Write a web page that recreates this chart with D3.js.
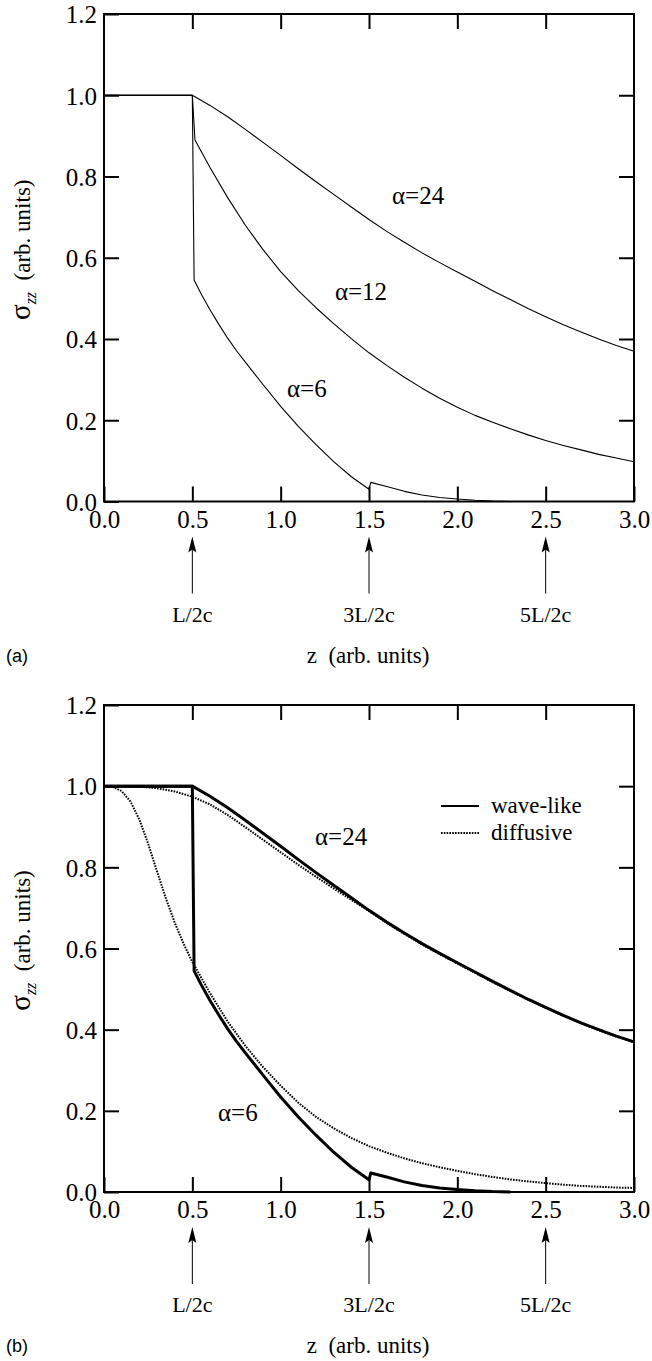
<!DOCTYPE html>
<html>
<head>
<meta charset="utf-8">
<script src="https://cdn.jsdelivr.net/npm/d3@7"></script>
<style>
  body { margin: 0; background: #fff; }
</style>
</head>
<body>
<div class="chart"></div>
<script>
// size of the whole picture
var svgWidth = 652;
var svgHeight = 1361;
var serif = "'Liberation Serif'";
var sans = "'Liberation Sans'";

// tick values
var xTicks = [0, 0.5, 1.0, 1.5, 2.0, 2.5, 3.0];
var yTicks = [0, 0.2, 0.4, 0.6, 0.8, 1.0, 1.2];

// arrow markers under the x axis
var arrowZ = [0.5, 1.5, 2.5];
var arrowLabels = ["L/2c", "3L/2c", "5L/2c"];

// wave-like solutions
var zWave24 = [0, 0.5, 0.6, 0.7, 0.8, 0.9, 1.0, 1.1, 1.2, 1.3, 1.4, 1.5, 1.6, 1.7, 1.8, 1.9, 2.0, 2.1, 2.2, 2.3, 2.4, 2.5, 2.6, 2.7, 2.8, 2.9, 3.0];
var sWave24 = [1.0, 1.0, 0.975, 0.947, 0.916, 0.884, 0.852, 0.819, 0.787, 0.756, 0.725, 0.694, 0.665, 0.638, 0.612, 0.588, 0.565, 0.542, 0.519, 0.497, 0.475, 0.455, 0.435, 0.417, 0.400, 0.384, 0.370];

var zWave12 = [0, 0.5, 0.515, 0.6, 0.7, 0.8, 0.9, 1.0, 1.1, 1.2, 1.3, 1.4, 1.5, 1.6, 1.7, 1.8, 1.9, 2.0, 2.1, 2.2, 2.3, 2.4, 2.5, 2.6, 2.7, 2.8, 2.9, 3.0];
var sWave12 = [1.0, 1.0, 0.89, 0.822, 0.748, 0.680, 0.620, 0.566, 0.519, 0.477, 0.438, 0.401, 0.366, 0.335, 0.306, 0.279, 0.254, 0.232, 0.212, 0.195, 0.179, 0.164, 0.150, 0.138, 0.127, 0.116, 0.107, 0.098];

var zWave6 = [0, 0.5, 0.51, 0.55, 0.6, 0.65, 0.7, 0.75, 0.8, 0.9, 1.0, 1.1, 1.2, 1.3, 1.4, 1.5, 1.51, 1.6, 1.7, 1.8, 1.9, 2.0, 2.1, 2.2, 2.3];
var sWave6 = [1.0, 1.0, 0.545, 0.511, 0.472, 0.436, 0.402, 0.371, 0.343, 0.288, 0.234, 0.185, 0.140, 0.098, 0.061, 0.030, 0.047, 0.037, 0.025, 0.016, 0.010, 0.006, 0.003, 0.001, 0.0];

// diffusive solutions
var zDiff24 = [0, 0.1, 0.2, 0.3, 0.4, 0.5, 0.6, 0.7, 0.8, 0.9, 1.0, 1.1, 1.2, 1.3, 1.4, 1.5, 1.6, 1.7, 1.8, 1.9, 2.0, 2.1, 2.2, 2.3, 2.4, 2.5, 2.6, 2.7, 2.8, 2.9, 3.0];
var sDiff24 = [1.0, 1.0, 0.999, 0.995, 0.987, 0.974, 0.955, 0.929, 0.899, 0.868, 0.837, 0.806, 0.777, 0.748, 0.720, 0.692, 0.663, 0.636, 0.610, 0.586, 0.563, 0.540, 0.517, 0.495, 0.474, 0.454, 0.434, 0.416, 0.399, 0.383, 0.369];

var zDiff6 = [0, 0.05, 0.1, 0.15, 0.2, 0.25, 0.3, 0.35, 0.4, 0.45, 0.5, 0.6, 0.7, 0.8, 0.9, 1.0, 1.1, 1.2, 1.3, 1.4, 1.5, 1.6, 1.7, 1.8, 1.9, 2.0, 2.1, 2.2, 2.3, 2.4, 2.5, 2.6, 2.7, 2.8, 2.9, 3.0];
var sDiff6 = [1.0, 0.998, 0.988, 0.962, 0.918, 0.858, 0.790, 0.724, 0.664, 0.612, 0.567, 0.490, 0.420, 0.360, 0.308, 0.262, 0.220, 0.185, 0.157, 0.133, 0.113, 0.097, 0.083, 0.071, 0.061, 0.052, 0.044, 0.037, 0.031, 0.026, 0.022, 0.018, 0.015, 0.013, 0.011, 0.010];

function zip(zs, ss) {
  return zs.map(function (z, i) { return [z, ss[i]]; });
}

var svg = d3.select(".chart")
  .append("svg")
  .attr("width", svgWidth)
  .attr("height", svgHeight);

var left = 104, right = 634;

function styleAxis(sel) {
  sel.select(".domain").remove();
  sel.selectAll(".tick line").attr("stroke", "#000").attr("stroke-width", 2);
  sel.selectAll(".tick text")
    .style("font-family", serif)
    .style("font-size", "25px")
    .attr("fill", "#000");
}

function drawPanel(top, bottom, tag) {
  var g = svg.append("g");

  var xScale = d3.scaleLinear().domain([0, 3]).range([left, right]);
  var yScale = d3.scaleLinear().domain([0, 1.2]).range([bottom, top]);

  // bottom axis with labels
  var xAxis = g.append("g")
    .attr("transform", `translate(0, ${bottom})`)
    .call(d3.axisBottom(xScale).tickValues(xTicks).tickSizeInner(-15).tickSizeOuter(0).tickFormat(d3.format(".1f")));
  styleAxis(xAxis);
  xAxis.selectAll("text").attr("y", 26).attr("dy", 0);

  // left axis with labels
  var yAxis = g.append("g")
    .attr("transform", `translate(${left}, 0)`)
    .call(d3.axisLeft(yScale).tickValues(yTicks).tickSizeInner(-15).tickSizeOuter(0).tickPadding(7).tickFormat(d3.format(".1f")));
  styleAxis(yAxis);
  yAxis.selectAll("text").attr("dy", "0.35em");

  // top and right axes, ticks only
  styleAxis(g.append("g")
    .attr("transform", `translate(0, ${top})`)
    .call(d3.axisTop(xScale).tickValues(xTicks.slice(1, -1)).tickSizeInner(-15).tickSizeOuter(0).tickFormat("")));
  styleAxis(g.append("g")
    .attr("transform", `translate(${right}, 0)`)
    .call(d3.axisRight(yScale).tickValues(yTicks.slice(1, -1)).tickSizeInner(-15).tickSizeOuter(0).tickFormat("")));

  // frame
  g.append("rect")
    .attr("x", left).attr("y", top)
    .attr("width", right - left).attr("height", bottom - top)
    .attr("fill", "none").attr("stroke", "#000").attr("stroke-width", 2);

  // y axis label
  var ylab = g.append("text")
    .attr("transform", `translate(30, ${(top + bottom) / 2 - 8}) rotate(-90)`)
    .attr("text-anchor", "middle")
    .style("font-family", serif)
    .style("font-size", "23px");
  ylab.append("tspan").style("font-size", "29px").text("σ");
  ylab.append("tspan").style("font-size", "16px").style("font-style", "italic").attr("dy", 6).text("zz");
  ylab.append("tspan").attr("dy", -6).text("\u00a0\u00a0(arb. units)");

  // arrows and their labels
  var arrows = g.selectAll(".arrow").data(arrowZ).enter().append("g")
    .attr("transform", d => `translate(${xScale(d)}, ${bottom + 35})`);
  arrows.append("line")
    .attr("x1", 0).attr("x2", 0).attr("y1", 8).attr("y2", 57)
    .attr("stroke", "#000").attr("stroke-width", 1);
  arrows.append("path")
    .attr("d", "M0,0 L-4,16 L0,13 L4,16 Z")
    .attr("fill", "#000");
  g.selectAll(".alab").data(arrowZ).enter().append("text")
    .attr("x", d => xScale(d))
    .attr("y", bottom + 120)
    .attr("text-anchor", "middle")
    .style("font-family", serif)
    .style("font-size", "22px")
    .text((d, i) => arrowLabels[i]);

  // x axis label and panel tag
  g.append("text")
    .attr("x", 368).attr("y", bottom + 161)
    .attr("text-anchor", "middle")
    .style("font-family", serif)
    .style("font-size", "23px")
    .text("z\u00a0\u00a0(arb. units)");
  g.append("text")
    .attr("x", 6).attr("y", bottom + 160)
    .style("font-family", sans)
    .style("font-size", "18px")
    .text(tag);

  return { g: g, x: xScale, y: yScale };
}

function addCurve(p, data, width, dash) {
  var line = d3.line().x(d => p.x(d[0])).y(d => p.y(d[1]));
  var path = p.g.append("path")
    .datum(data)
    .attr("d", line)
    .attr("fill", "none")
    .attr("stroke", "#000")
    .attr("stroke-width", width)
    .attr("stroke-linejoin", "round");
  if (dash) path.attr("stroke-dasharray", dash);
}

function addLabel(p, z, s, txt) {
  p.g.append("text")
    .attr("x", p.x(z)).attr("y", p.y(s))
    .style("font-family", serif)
    .style("font-size", "25px")
    .text(txt);
}

// panel (a)
var pa = drawPanel(14, 501.5, "(a)");
addCurve(pa, zip(zWave24, sWave24), 1.1);
addCurve(pa, zip(zWave12, sWave12), 1.1);
addCurve(pa, zip(zWave6, sWave6), 1.1);
addLabel(pa, 1.63, 0.732, "α=24");
addLabel(pa, 1.307, 0.496, "α=12");
addLabel(pa, 1.036, 0.257, "α=6");

// panel (b)
var pb = drawPanel(705, 1192, "(b)");
addCurve(pb, zip(zDiff24, sDiff24), 2, "1.6,1.2");
addCurve(pb, zip(zDiff6, sDiff6), 2, "1.6,1.2");
addCurve(pb, zip(zWave24, sWave24), 3);
addCurve(pb, zip(zWave6, sWave6), 3);
addLabel(pb, 1.194, 0.854, "α=24");
addLabel(pb, 0.645, 0.175, "α=6");

// legend
var legendNames = ["wave-like", "diffusive"];
var legendDash = [null, "1.6,1.2"];
legendNames.forEach(function (name, i) {
  var yy = 806 + i * 27;
  var ln = pb.g.append("line")
    .attr("x1", 441).attr("x2", 479).attr("y1", yy).attr("y2", yy)
    .attr("stroke", "#000").attr("stroke-width", 2);
  if (legendDash[i]) ln.attr("stroke-dasharray", legendDash[i]);
  pb.g.append("text")
    .attr("x", 491).attr("y", yy + 7)
    .style("font-family", serif)
    .style("font-size", "23px")
    .text(name);
});
</script>
</body>
</html>
